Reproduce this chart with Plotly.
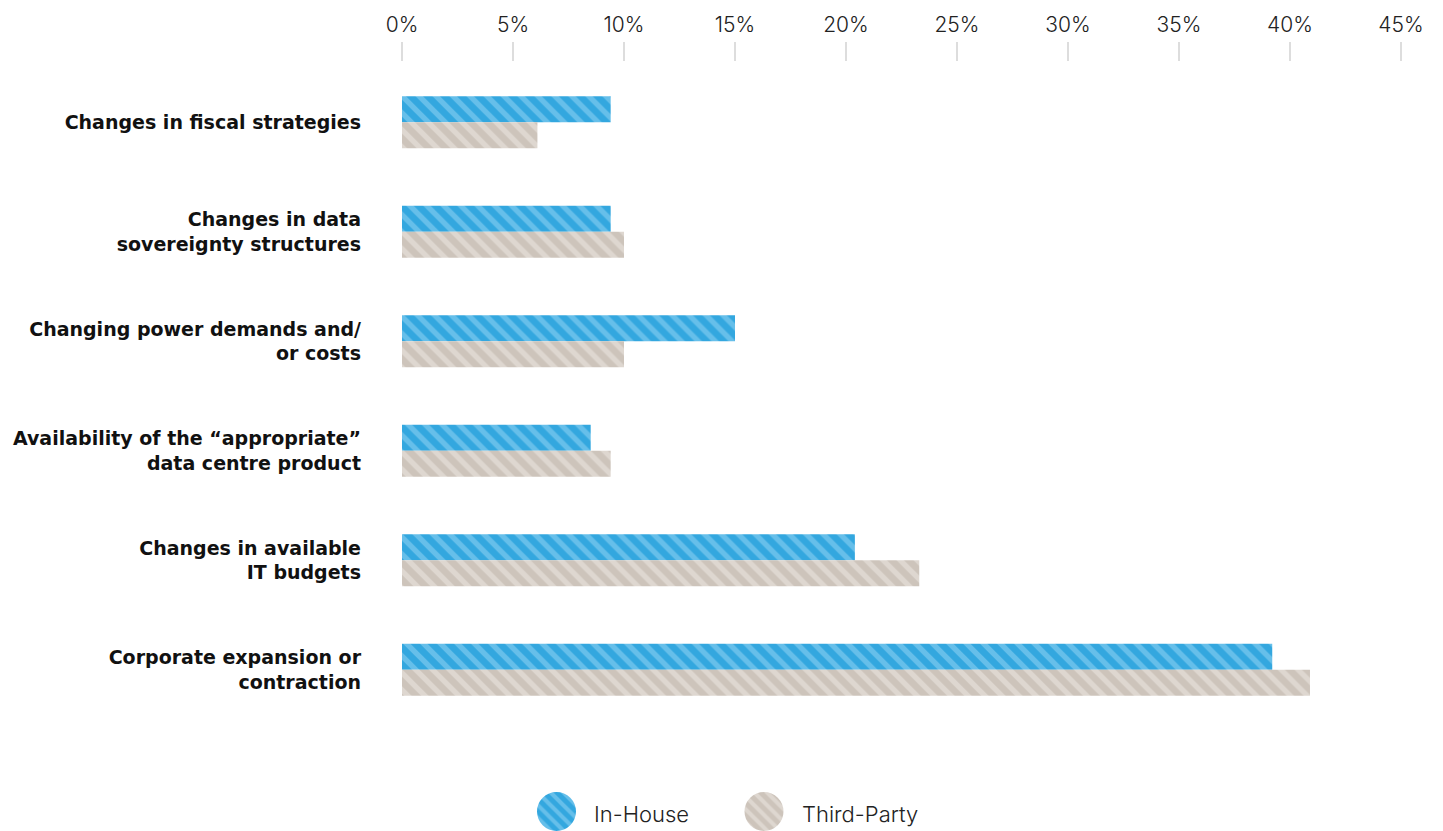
import plotly.graph_objects as go

# Survey: drivers of data centre strategy changes, % of respondents
categories = [
    "Changes in fiscal strategies",
    "Changes in data<br>sovereignty structures",
    "Changing power demands and/<br>or costs",
    "Availability of the \u201cappropriate\u201d<br>data centre product",
    "Changes in available<br>IT budgets",
    "Corporate expansion or<br>contraction",
]
in_house = [9.4, 9.4, 15.0, 8.5, 20.4, 39.2]
third_party = [6.1, 10.0, 10.0, 9.4, 23.3, 40.9]
tick_values = [0, 5, 10, 15, 20, 25, 30, 35, 40, 45]
tick_labels = [f"{v}%" for v in tick_values]
series_names = ["In-House", "Third-Party"]

BLUE, BLUE_STRIPE = "#33a7df", "#66bfea"
BEIGE, BEIGE_STRIPE = "#cdc4bb", "#ded7d0"
FONT = "Inter"
LABEL_FONT = "DejaVu Sans"

W, H = 1443, 831
M_L, M_R, M_T, M_B = 402, 42, 62, 0
PW, PH = W - M_L - M_R, H - M_T - M_B


def px_x(x):
    return (x - M_L) / PW


def px_y(y):
    return (H - M_B - y) / PH


def stripes(bg, fg, size=12):
    return dict(shape="\\", bgcolor=bg, fgcolor=fg, size=size, solidity=0.45, fillmode="replace")


fig = go.Figure()
fig.add_trace(go.Bar(
    y=categories, x=in_house, name=series_names[0], orientation="h",
    marker=dict(color=BLUE, line=dict(width=0), pattern=stripes(BLUE, BLUE_STRIPE)),
))
fig.add_trace(go.Bar(
    y=categories, x=third_party, name=series_names[1], orientation="h",
    marker=dict(color=BEIGE, line=dict(width=0), pattern=stripes(BEIGE, BEIGE_STRIPE)),
))

# Legend: hatched circles (single-slice pies) with text beside them
legend_items = [
    (series_names[0], BLUE, BLUE_STRIPE, 556.5, 592),
    (series_names[1], BEIGE, BEIGE_STRIPE, 764, 800),
]
annotations = []
for name, bg, fg, cx, tx in legend_items:
    fig.add_trace(go.Pie(
        values=[1], labels=[name], sort=False, textinfo="none", hoverinfo="skip",
        showlegend=False,
        marker=dict(colors=[bg], line=dict(width=0), pattern=stripes(bg, fg, 9)),
        domain=dict(x=[px_x(cx - 20), px_x(cx + 20)], y=[0, px_y(792)]),
    ))
    annotations.append(dict(
        text=name, x=px_x(tx), y=px_y(814), xref="paper", yref="paper",
        xanchor="left", yanchor="middle", showarrow=False,
        font=dict(family=FONT, size=22, color="#222222", weight=300),
    ))

fig.update_layout(
    width=W, height=H,
    margin=dict(l=M_L, r=M_R, t=M_T, b=M_B, autoexpand=False),
    paper_bgcolor="white", plot_bgcolor="white",
    barmode="group", bargap=0.525, bargroupgap=0,
    showlegend=False,
    annotations=annotations,
    font=dict(family=FONT, color="#222222"),
    xaxis=dict(
        side="top", range=[0, 45], tickvals=tick_values, ticktext=tick_labels,
        showgrid=False, zeroline=False, showline=False,
        ticks="outside", ticklen=19, tickwidth=2, tickcolor="#dddddd",
        ticklabelstandoff=2,
        tickfont=dict(family=FONT, size=21, color="#222222", weight=300),
        fixedrange=True,
    ),
    yaxis=dict(
        categoryorder="array", categoryarray=categories,
        range=[5.55, -0.55], domain=[px_y(730), 1],
        showgrid=False, zeroline=False, showline=False, ticks="",
        ticklabelstandoff=40,
        tickfont=dict(family=LABEL_FONT, size=19, color="#111111", weight="bold"),
        fixedrange=True,
    ),
)

fig.write_html("out.html")
